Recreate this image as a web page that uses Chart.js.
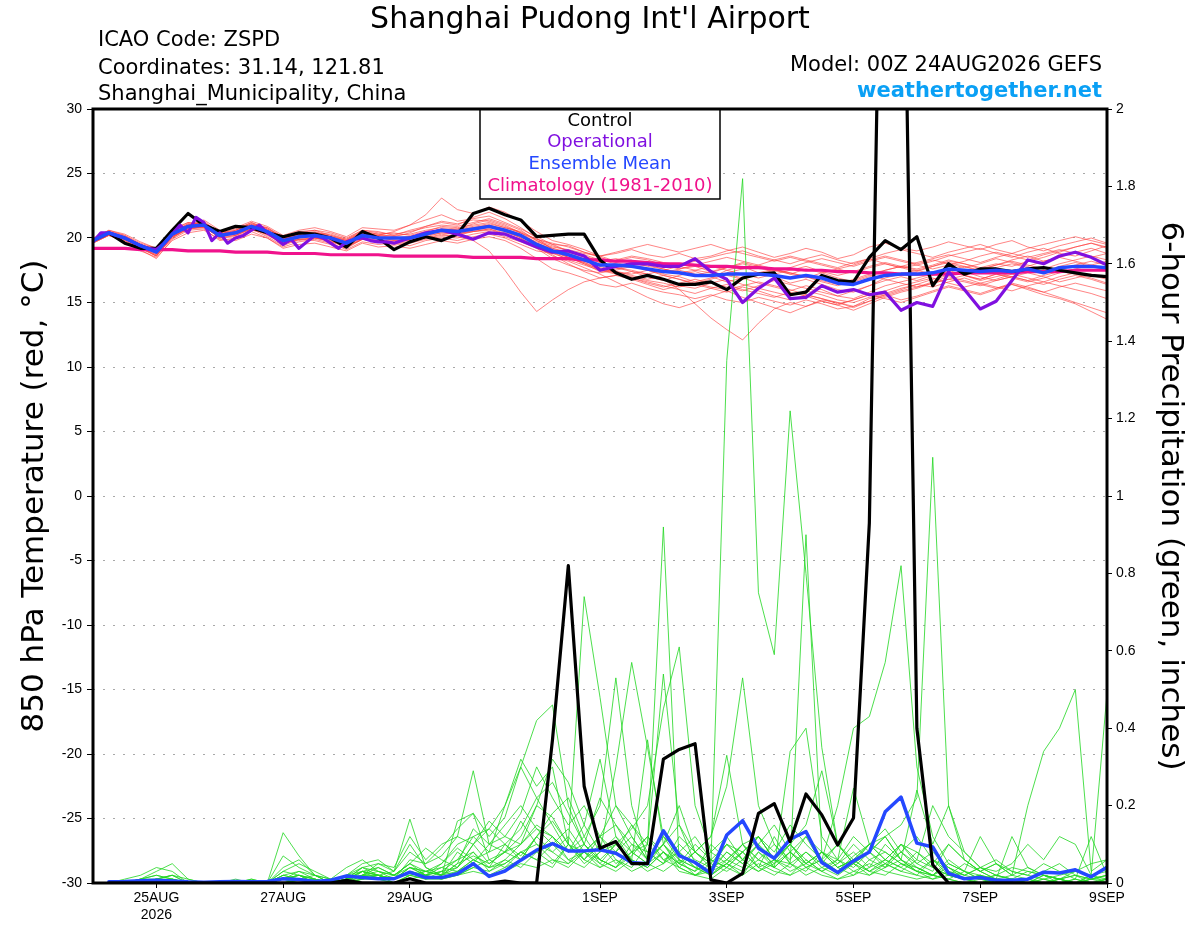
<!DOCTYPE html>
<html>
<head>
<meta charset="utf-8">
<title>Shanghai Pudong Int'l Airport - GEFS meteogram</title>
<script src="https://cdn.jsdelivr.net/npm/chart.js@4/dist/chart.umd.min.js"></script>
<style>
  html, body { margin: 0; padding: 0; background: #fff; }
</style>
</head>
<body>
<canvas id="meteogram" width="1200" height="927"></canvas>
<script>
// Time axis: forecast hours from 00Z 24AUG2026, ensemble output every 6 hours
const stepHours = 6;
const dayTicks = [24, 72, 120, 192, 240, 288, 336, 384];
const dayLabels = [['25AUG', '2026'], '27AUG', '29AUG', '1SEP', '3SEP', '5SEP', '7SEP', '9SEP'];

// 850 hPa temperature, deg C
const controlTemp = [
    19.8,20.4,19.6,19.2,19.2,20.6,21.9,21.0,20.5,20.9,20.8,20.4,20.1,
    20.4,20.3,20.0,19.3,20.5,20.0,19.1,19.7,20.1,19.8,20.3,21.9,22.3,
    21.8,21.4,20.1,20.2,20.3,20.3,18.3,17.3,16.8,17.1,16.8,16.4,16.4,
    16.6,16.0,16.9,17.2,17.3,15.6,15.8,17.1,16.7,16.6,18.5,19.8,19.1,20.1,
    16.3,18.0,17.2,17.6,17.6,17.4,17.6,17.7,17.5,17.3,17.1,17.0
];
const meanTemp = [
    19.8,20.4,20.0,19.4,18.9,20.3,20.9,21.0,20.2,20.4,20.9,20.5,19.8,
    20.1,20.2,20.0,19.6,20.2,20.0,20.0,20.0,20.3,20.6,20.5,20.7,20.9,
    20.6,20.2,19.5,19.0,18.7,18.3,17.9,17.9,17.8,17.6,17.4,17.3,17.1,
    17.1,17.2,17.2,17.2,17.1,16.9,17.1,16.9,16.5,16.4,16.8,17.1,17.2,
    17.2,17.3,17.6,17.5,17.4,17.5,17.4,17.6,17.3,17.7,17.8,17.8,17.7
];
const climTemp = [
    19.2,19.2,19.2,19.1,19.1,19.1,19.0,19.0,19.0,18.9,18.9,18.9,18.8,
    18.8,18.8,18.7,18.7,18.7,18.7,18.6,18.6,18.6,18.6,18.6,18.5,18.5,
    18.5,18.5,18.4,18.4,18.4,18.3,18.3,18.2,18.2,18.1,18.0,18.0,17.9,
    17.8,17.8,17.7,17.7,17.6,17.6,17.5,17.5,17.4,17.4,17.3,17.3,17.2,
    17.2,17.2,17.2,17.3,17.3,17.3,17.3,17.4,17.4,17.4,17.5,17.5,17.5
];
// operational run: 3-hourly to 120h, then 6-hourly
const operTemp3h = [
    19.7,20.4,20.4,20.2,20.0,19.7,19.4,19.2,19.1,19.6,20.3,21.0,20.4,21.6,
    21.2,19.8,20.4,19.6,20.0,20.2,20.6,21.0,20.4,20.0,19.5,19.9,19.2,19.7,
    20.2,20.0,19.6,19.2,19.7,19.9,20.0,19.8,19.7,19.7,19.6,19.8,20.0
];
const operTemp6h = [
    20.4,20.6,20.3,19.9,20.4,20.3,19.8,19.3,18.9,19.0,18.6,17.5,17.8,18.0,18.0,
    17.8,17.8,18.4,17.4,16.8,15.0,16.1,16.9,15.3,15.4,16.3,15.8,16.0,15.6,15.8,
    14.4,15.0,14.7,17.4,16.0,14.5,15.1,16.7,18.3,18.0,18.6,18.9,18.5,17.9
];
const memberTemp = [
    [19.9,20.6,20.2,19.6,19.2,20.7,21.2,21.1,20.5,20.8,21.3,20.9,20.2,
     20.6,20.8,20.5,20.1,20.8,20.7,20.6,21.0,21.4,21.8,21.3,21.5,21.7,
     21.2,20.7,20.1,19.5,19.4,18.9,18.6,18.8,19.1,18.7,18.5,18.8,18.4,
     18.6,19.0,19.3,18.9,18.5,18.8,19.2,18.9,18.4,18.7,19.3,19.6,19.2,
     19.0,19.3,19.7,19.4,19.1,19.5,19.8,19.3,19.0,19.4,19.7,20.0,19.6],
    [19.6,20.2,19.7,19.0,18.5,19.8,20.4,20.6,19.9,19.8,20.3,20.0,19.2,
     19.5,19.6,19.3,19.0,19.6,19.3,19.4,19.2,19.5,19.8,19.6,19.9,20.1,
     19.8,19.2,18.4,17.6,17.3,16.9,16.4,16.2,16.5,16.1,15.8,15.6,15.3,
     15.6,15.2,15.0,15.4,15.1,14.8,15.2,14.9,14.5,14.7,15.3,15.6,15.2,
     15.5,15.9,16.3,16.0,15.7,16.1,16.4,16.0,15.6,15.3,14.9,14.3,13.7],
    [19.7,20.3,20.1,19.5,18.8,20.1,20.9,21.2,20.3,20.5,21.0,20.3,19.5,
     20.0,20.4,20.2,19.8,20.5,20.3,20.1,20.4,20.9,21.2,21.0,21.6,22.0,
     21.5,20.8,20.0,19.1,18.5,18.0,17.4,17.6,17.9,17.5,17.2,17.0,16.6,
     16.9,17.5,17.8,17.3,17.0,16.5,16.8,16.4,16.0,15.8,16.3,16.9,17.2,
     17.5,17.8,18.2,18.0,17.6,17.9,18.3,18.6,18.2,18.5,18.9,19.2,18.8],
    [19.8,20.5,20.0,19.2,18.7,20.0,20.7,20.9,20.0,20.1,20.6,20.4,19.6,
     19.9,20.0,19.8,19.3,19.9,19.8,19.7,19.8,20.0,20.3,20.1,19.8,19.0,
     17.5,15.8,14.3,15.2,16.0,16.6,16.9,17.1,16.8,16.4,16.0,16.3,16.1,
     16.5,16.8,16.4,16.1,15.8,15.5,15.9,15.6,15.2,15.0,15.4,15.7,16.1,
     16.4,16.2,16.6,16.9,16.5,16.8,17.2,16.9,16.6,17.0,17.3,17.1,16.8],
    [19.9,20.4,20.1,19.5,19.1,20.5,21.0,21.3,20.4,20.6,21.2,20.7,20.0,
     20.3,20.5,20.1,19.8,20.4,20.2,20.5,21.0,21.8,23.1,22.2,21.9,22.4,
     22.0,21.3,20.5,19.8,19.5,19.1,18.6,18.2,18.5,18.3,17.9,17.6,17.8,
     17.4,17.7,18.1,17.8,17.5,17.2,17.6,17.3,16.9,16.6,17.0,17.5,17.8,
     17.6,17.9,18.3,18.0,17.7,18.0,17.8,18.2,18.5,18.9,19.3,19.6,19.2],
    [19.7,20.3,19.9,19.3,18.6,20.2,21.0,21.4,20.6,20.2,20.7,20.1,19.4,
     19.9,19.8,19.5,19.2,19.9,19.7,19.5,19.6,19.9,20.1,20.0,20.3,20.5,
     20.1,19.7,19.2,18.8,18.4,18.1,17.5,17.3,17.0,16.7,16.5,16.2,16.5,
     16.8,17.2,16.9,16.5,16.2,15.9,16.3,16.0,15.5,15.3,15.8,16.3,16.6,
     16.9,17.2,17.5,17.1,16.8,17.2,17.0,16.7,17.1,17.4,17.2,16.9,16.5],
    [19.8,20.4,20.0,19.5,19.0,20.4,21.1,20.8,20.1,20.4,21.0,20.6,19.9,
     20.3,20.4,20.3,19.9,20.5,20.3,20.4,20.2,20.5,20.9,20.8,21.0,21.2,
     20.8,20.5,19.9,19.6,19.3,18.9,18.5,18.1,17.8,17.5,17.3,17.6,17.9,
     18.2,18.5,18.2,17.9,18.3,18.6,18.3,18.0,17.7,18.1,18.4,18.0,17.7,
     17.9,18.2,18.6,18.9,19.2,18.8,18.5,18.9,19.2,18.8,18.6,19.0,19.4],
    [19.9,20.5,20.1,19.3,18.8,20.3,20.8,20.9,20.0,20.6,21.1,20.8,20.0,
     20.1,20.3,19.9,19.5,20.1,20.0,19.9,20.1,20.4,20.5,20.7,21.1,21.4,
     21.0,20.4,19.6,19.0,18.5,18.0,17.6,17.4,17.2,17.5,17.1,16.8,16.5,
     16.2,16.0,16.3,16.6,16.3,16.0,15.6,15.3,15.0,14.7,15.1,15.5,15.9,
     16.2,16.5,16.8,16.6,16.3,16.7,17.0,16.7,16.4,16.8,17.1,16.8,16.4],
    [19.8,20.3,19.9,19.4,19.0,20.1,20.7,20.8,20.3,20.3,20.8,20.4,19.8,
     20.2,20.1,19.9,19.4,20.0,19.9,20.1,19.9,20.2,20.4,20.3,20.6,20.8,
     20.5,20.0,19.3,18.6,18.2,17.7,17.2,16.6,16.0,15.4,14.9,14.6,15.0,
     15.5,15.9,15.4,15.0,14.6,14.2,14.7,15.1,14.8,14.4,14.9,15.4,15.8,
     16.1,16.5,16.8,17.1,16.7,17.0,17.3,17.6,17.3,17.6,17.9,18.2,17.9],
    [19.8,20.4,20.0,19.4,18.9,20.3,20.9,21.1,20.2,20.5,21.0,20.6,19.9,
     20.2,20.3,20.0,19.7,20.3,20.2,20.0,20.1,20.4,20.7,20.6,20.8,21.0,
     20.7,20.3,19.6,19.2,18.8,18.4,17.9,17.7,17.5,17.2,16.8,16.0,14.9,
     13.8,12.9,12.1,13.4,14.5,15.0,14.7,15.2,15.0,14.6,15.1,15.6,16.0,
     16.4,16.8,17.1,17.4,17.0,16.7,17.0,17.3,17.0,16.6,16.9,17.2,16.9],
    [19.7,20.2,19.8,19.1,18.4,19.9,20.6,20.7,19.8,20.0,20.5,20.0,19.3,
     19.7,19.9,19.6,19.1,19.7,19.5,19.6,19.4,19.8,20.0,19.8,20.1,20.3,
     20.0,19.5,19.0,18.8,18.9,18.5,18.1,18.3,18.6,18.4,18.1,17.9,18.2,
     18.5,18.8,19.0,18.6,18.3,18.0,18.4,18.7,18.3,18.0,18.4,18.8,19.1,
     18.8,18.5,18.9,19.2,19.5,19.1,18.8,19.2,19.5,19.8,20.1,19.8,19.5],
    [20.0,20.6,20.3,19.7,19.2,20.6,21.2,21.0,20.4,20.7,21.2,20.7,20.1,
     20.4,20.6,20.4,20.0,20.6,20.4,20.3,20.5,20.8,21.0,20.9,21.2,21.5,
     21.1,20.6,19.8,19.2,18.9,18.6,18.2,18.4,18.1,17.8,17.6,17.3,17.1,
     17.4,17.1,16.8,17.2,17.5,17.3,17.0,16.6,16.3,16.7,17.1,16.8,16.5,
     16.2,16.6,17.0,16.7,16.4,16.1,16.5,16.2,15.8,15.4,15.0,14.6,14.2],
    [19.6,20.2,19.8,19.2,18.6,20.0,20.8,20.9,20.1,20.3,20.7,20.3,19.7,
     20.0,20.1,19.7,19.5,20.1,20.1,19.8,19.9,20.2,20.6,20.4,20.5,20.6,
     20.3,19.9,19.3,18.7,18.0,17.4,16.9,17.1,17.4,17.0,16.7,17.1,17.4,
     17.0,16.6,16.9,17.3,17.6,17.2,16.9,17.3,17.6,17.3,17.7,18.0,17.7,
     17.4,17.8,18.1,17.8,17.5,17.9,18.2,17.9,17.6,18.0,18.3,18.6,18.3],
    [19.9,20.5,20.2,19.5,19.0,20.4,21.0,21.2,20.5,20.4,21.0,20.8,20.1,
     20.5,20.6,20.2,19.9,20.6,20.5,20.2,20.6,20.9,21.3,21.1,21.4,21.3,
     20.9,20.4,19.9,19.5,19.0,18.7,18.3,18.0,17.7,17.9,17.6,17.3,17.5,
     17.8,17.5,17.2,16.9,17.2,17.5,17.8,17.4,17.1,17.4,17.8,18.1,17.8,
     17.5,17.2,17.5,17.8,17.4,17.7,18.0,17.7,17.4,17.8,18.1,17.8,17.5],
    [19.7,20.3,19.9,19.3,18.7,20.1,20.8,20.8,20.1,20.2,20.8,20.2,19.6,
     19.8,20.0,19.8,19.4,19.9,19.8,19.6,19.7,20.0,20.2,20.2,20.5,20.7,
     20.4,20.1,19.6,19.1,18.7,18.2,17.8,17.4,17.1,16.8,17.1,16.8,16.4,
     16.1,15.8,16.2,15.9,15.5,15.2,15.6,15.3,14.9,15.2,15.6,15.9,16.3,
     16.6,16.9,16.5,16.2,16.5,16.2,15.9,16.3,16.6,16.3,16.0,15.7,15.3],
    [19.8,20.4,20.1,19.4,18.9,20.2,20.9,21.0,20.3,20.5,20.9,20.5,19.9,
     20.1,20.2,20.0,19.6,20.2,20.0,20.0,20.0,20.3,20.6,20.5,20.7,20.9,
     20.6,20.2,19.7,19.3,19.1,18.8,18.6,18.9,19.2,19.5,19.2,18.9,19.2,
     19.5,19.1,18.8,18.5,18.2,18.5,18.2,17.9,17.6,17.9,18.3,18.6,18.3,
     18.0,18.3,18.0,17.7,18.0,18.4,18.1,17.8,18.2,18.5,18.2,17.9,18.2],
    [19.9,20.5,20.0,19.5,19.0,20.4,20.9,21.0,20.2,20.4,21.0,20.6,19.9,
     20.2,20.3,20.1,19.7,20.3,20.1,20.0,20.1,20.4,20.7,20.6,20.8,21.0,
     20.6,20.0,19.2,18.4,17.9,17.5,17.3,17.5,17.8,17.6,17.3,17.5,17.2,
     17.0,17.3,17.6,17.9,17.6,17.3,17.0,16.7,16.4,16.8,17.2,17.5,17.8,
     18.1,18.4,18.7,18.4,18.1,18.5,18.8,18.5,18.8,19.1,18.8,18.5,18.8],
    [19.7,20.3,19.9,19.2,18.6,20.1,20.7,20.9,20.0,20.2,20.7,20.3,19.6,
     19.9,20.0,19.7,19.3,19.9,19.8,19.8,19.8,20.1,20.4,20.3,20.5,20.7,
     20.3,19.9,19.4,18.9,18.5,18.1,17.7,17.3,16.9,16.5,16.2,16.5,16.8,
     16.5,16.2,15.9,16.3,16.7,16.4,16.1,15.8,15.5,15.9,16.3,16.7,17.0,
     16.7,17.1,17.4,17.1,16.8,17.2,16.9,16.6,16.9,17.3,17.6,17.9,17.6],
    [19.8,20.4,20.0,19.5,19.1,20.5,21.1,21.1,20.3,20.6,21.1,20.6,20.0,
     20.3,20.4,20.1,19.8,20.4,20.2,20.2,20.3,20.6,20.8,20.7,20.9,21.1,
     20.8,20.4,19.8,19.4,19.0,18.6,18.1,17.7,17.4,17.2,17.5,17.8,17.5,
     17.3,17.7,18.0,17.7,17.4,17.7,18.1,18.4,18.1,17.8,18.2,18.5,18.2,
     17.9,17.6,17.9,18.2,18.6,18.9,18.6,18.3,18.7,19.0,19.3,19.6,19.3],
    [19.8,20.4,20.0,19.4,18.9,20.3,20.9,21.0,20.2,20.4,20.9,20.5,19.8,
     20.1,20.2,20.0,19.6,20.2,20.0,20.0,20.0,20.3,20.6,20.5,20.7,20.9,
     20.6,20.2,19.4,18.9,18.3,17.9,17.5,17.2,16.9,16.6,16.3,16.0,15.7,
     16.1,16.4,16.0,15.7,15.4,15.8,15.5,15.1,14.8,15.2,15.6,15.3,15.0,
     15.4,15.8,16.2,15.9,15.6,16.0,16.4,16.1,15.8,16.2,16.5,16.2,15.9]
];

// 6-hour precipitation, inches (nothing at hour 0)
const controlPrecip = [
    null,0,0,0,0,0,0,0,0,0,0,0,0,
    0,0,0,0.007,0,0,0,0.011,0,0,0,0,0,
    0.005,0,0,0.37,0.82,0.25,0.09,0.107,0.05,0.05,0.32,0.345,0.36,
    0.008,0,0.025,0.18,0.205,0.107,0.23,0.176,0.098,0.168,0.93,3.2,3.0,
    0.40,0.047,0,0,0,0,0,0,0,0,0,0,0
];
const meanPrecip = [
    null,0.003,0.004,0.006,0.007,0.005,0.003,0.002,0.003,0.004,0.003,0.004,0.011,
    0.009,0.004,0.007,0.018,0.014,0.011,0.011,0.028,0.014,0.014,0.024,0.05,0.017,
    0.031,0.059,0.085,0.102,0.083,0.083,0.086,0.077,0.053,0.05,0.135,0.071,0.053,
    0.025,0.124,0.161,0.09,0.064,0.113,0.133,0.053,0.027,0.057,0.08,0.184,0.222,
    0.103,0.093,0.025,0.011,0.014,0.007,0.007,0.01,0.028,0.026,0.034,0.016,0.041
];
const memberPrecip = [
    [null,0,0,0.01,0.02,0.01,0,0,0,0,0,0,0.02,
     0.01,0,0,0.02,0.03,0.01,0.02,0.05,0.02,0.03,0.04,0.08,0.03,
     0.06,0.1,0.15,0.12,0.08,0.1,0.05,0.03,0.06,0.04,0.08,0.03,0.02,
     0.05,1.35,1.82,0.75,0.59,1.22,0.8,0.35,0.1,0.05,0.02,0.04,0.06,
     0.03,0.01,0.02,0.01,0,0.01,0,0,0.02,0.01,0,0,0.01],
    [null,0,0.01,0.02,0.04,0.03,0,0,0,0.01,0,0,0.01,
     0.03,0.02,0,0.01,0.04,0.03,0.01,0.06,0.05,0.07,0.12,0.1,0.14,
     0.2,0.32,0.25,0.3,0.1,0.74,0.48,0.2,0.12,0.06,0.1,0.04,0.02,
     0.03,0.05,0.02,0.08,0.04,0.02,0.06,0.03,0.01,0.02,0.04,0.1,0.06,
     0.03,0.02,0.01,0,0.01,0,0,0,0.01,0,0,0.02,0.01],
    [null,0,0,0.01,0.03,0.05,0.01,0,0,0,0.01,0,0.04,
     0.06,0.02,0,0.01,0.02,0.05,0.03,0.1,0.04,0.02,0.05,0.14,0.1,
     0.12,0.18,0.3,0.22,0.15,0.2,0.12,0.08,0.15,0.1,0.92,0.05,0.03,
     0.06,0.1,0.08,0.04,0.12,0.05,0.03,0.08,0.04,0.06,0.03,0.02,0.05,
     0.04,0.02,0.01,0.03,0.01,0,0.01,0,0,0.01,0.03,0.02,0],
    [null,0,0,0,0.01,0.02,0,0,0,0,0,0,0.01,
     0.02,0.01,0,0,0.01,0.02,0.01,0.03,0.02,0.04,0.03,0.06,0.04,
     0.05,0.08,0.1,0.06,0.04,0.08,0.05,0.1,0.06,0.03,0.05,0.08,0.04,
     0.02,0.05,0.1,0.06,0.04,0.08,0.12,0.05,0.03,0.07,0.1,0.12,0.15,
     0.22,1.1,0.2,0.06,0.03,0.01,0,0.01,0,0,0.01,0,0],
    [null,0,0,0.01,0.02,0.01,0,0,0,0,0,0,0,
     0.01,0.02,0.01,0,0.02,0.04,0.02,0.02,0.03,0.02,0.05,0.07,0.05,
     0.08,0.12,0.2,0.17,0.1,0.06,0.12,0.15,0.08,0.05,0.1,0.06,0.04,
     0.03,0.08,0.05,0.1,0.06,0.05,0.9,0.08,0.04,0.06,0.1,0.08,0.05,
     0.03,0.06,0.02,0.01,0.02,0,0,0.01,0,0,0,0.01,0],
    [null,0,0,0,0.01,0.02,0.01,0,0,0,0.01,0,0.03,
     0.05,0.03,0.01,0,0.03,0.02,0.01,0.04,0.02,0.05,0.09,0.06,0.08,
     0.1,0.14,0.22,0.26,0.18,0.1,0.22,0.15,0.1,0.08,0.05,0.12,0.08,
     0.04,0.1,0.06,0.12,0.08,0.15,0.1,0.06,0.2,0.4,0.43,0.57,0.82,
     0.3,0.12,0.05,0.03,0.02,0.01,0,0,0.02,0,0,0,0.01],
    [null,0,0,0.01,0,0,0,0,0,0,0,0,0.01,
     0.02,0,0,0.01,0.03,0.04,0.02,0.05,0.03,0.04,0.06,0.12,0.08,
     0.2,0.3,0.42,0.46,0.2,0.1,0.06,0.04,0.08,0.05,0.03,0.06,0.02,
     0.01,0.04,0.02,0.05,0.03,0.02,0.04,0.02,0.01,0.03,0.05,0.03,0.02,
     0.01,0.02,0.01,0,0,0.01,0,0,0,0,0,0,0],
    [null,0,0,0,0.01,0,0,0,0,0,0,0,0.02,
     0.01,0.01,0,0.02,0.05,0.06,0.03,0.08,0.05,0.09,0.14,0.18,0.12,
     0.17,0.3,0.22,0.15,0.08,0.12,0.2,0.53,0.2,0.06,0.1,0.15,0.05,
     0.02,0.06,0.1,0.04,0.02,0.05,0.08,0.04,0.02,0.05,0.03,0.06,0.1,
     0.08,0.04,0.02,0.05,0.03,0.01,0.02,0.04,0.02,0.01,0,0.02,0.03],
    [null,0,0,0,0,0.01,0,0,0,0,0,0,0.07,
     0.04,0.02,0.01,0.04,0.06,0.03,0.02,0.05,0.09,0.06,0.04,0.1,0.16,
     0.12,0.1,0.2,0.32,0.26,0.15,0.08,0.3,0.57,0.35,0.12,0.06,0.04,
     0.08,0.05,0.03,0.06,0.1,0.05,0.02,0.04,0.06,0.03,0.02,0.05,0.03,
     0.02,0.01,0.03,0.02,0.04,0.02,0.01,0,0,0.01,0.02,0,0],
    [null,0,0,0.01,0.01,0,0,0,0,0,0,0,0.03,
     0.02,0,0,0.01,0.02,0.02,0.01,0.04,0.03,0.02,0.08,0.05,0.1,
     0.08,0.06,0.12,0.18,0.22,0.12,0.06,0.1,0.14,0.2,0.45,0.61,0.2,
     0.08,0.12,0.06,0.1,0.15,0.08,0.04,0.06,0.1,0.05,0.08,0.12,0.06,
     0.04,0.02,0.06,0.03,0.01,0.02,0.01,0,0.01,0,0,0.01,0.02],
    [null,0,0,0,0,0,0,0,0,0,0,0,0.01,
     0,0,0,0.01,0.01,0.02,0.01,0.03,0.01,0.02,0.03,0.05,0.02,
     0.04,0.06,0.08,0.05,0.1,0.06,0.04,0.08,0.12,0.06,0.1,0.2,0.08,
     0.12,0.25,0.53,0.2,0.1,0.06,0.12,0.08,0.05,0.1,0.06,0.04,0.08,
     0.05,0.03,0.1,0.06,0.03,0.05,0.02,0.01,0.03,0.05,0.02,0.01,0.02],
    [null,0,0,0,0.01,0.02,0,0,0,0,0,0,0.02,
     0.03,0.01,0,0.02,0.04,0.05,0.04,0.12,0.06,0.1,0.12,0.29,0.1,
     0.15,0.2,0.14,0.1,0.06,0.08,0.04,0.06,0.03,0.05,0.08,0.04,0.02,
     0.04,0.06,0.1,0.12,0.06,0.03,0.05,0.08,0.04,0.02,0.06,0.08,0.05,
     0.03,0.02,0.04,0.01,0,0.01,0,0,0,0.01,0,0,0],
    [null,0,0,0,0,0,0,0,0,0,0,0,0,
     0.01,0,0,0,0.02,0.01,0,0.02,0.01,0.03,0.02,0.04,0.03,
     0.05,0.08,0.06,0.04,0.1,0.05,0.08,0.12,0.06,0.04,0.08,0.05,0.1,
     0.06,0.04,0.08,0.12,0.06,0.1,0.05,0.08,0.04,0.06,0.1,0.06,0.04,
     0.08,0.05,0.1,0.06,0.03,0.05,0.02,0.2,0.34,0.4,0.5,0.03,0.06],
    [null,0,0,0,0,0.01,0,0,0,0,0,0,0.01,
     0,0.01,0,0.01,0.03,0.02,0.01,0.04,0.02,0.03,0.06,0.08,0.04,
     0.1,0.07,0.12,0.08,0.05,0.1,0.06,0.04,0.07,0.12,0.08,0.05,0.03,
     0.1,0.06,0.04,0.08,0.05,0.1,0.06,0.03,0.05,0.08,0.04,0.06,0.1,
     0.05,0.08,0.04,0.02,0.04,0.03,0.05,0.1,0.06,0.12,0.1,0.02,0.49],
    [null,0,0,0,0.01,0.01,0,0,0,0,0,0,0.13,
     0.07,0.02,0,0.01,0.02,0.03,0.02,0.04,0.03,0.05,0.1,0.12,0.14,
     0.1,0.06,0.12,0.16,0.1,0.08,0.12,0.2,0.15,0.08,0.05,0.1,0.06,
     0.04,0.08,0.05,0.03,0.06,0.04,0.08,0.05,0.1,0.06,0.03,0.05,0.08,
     0.04,0.02,0.05,0.03,0.12,0.05,0.03,0.02,0.01,0.02,0.03,0.05,0.06],
    [null,0,0,0,0,0,0,0,0,0,0,0,0.01,
     0.02,0.01,0,0.01,0.04,0.02,0.03,0.165,0.04,0.02,0.16,0.18,0.06,
     0.08,0.16,0.1,0.08,0.12,0.06,0.1,0.05,0.08,0.12,0.06,0.04,0.08,
     0.05,0.03,0.06,0.1,0.04,0.08,0.05,0.03,0.06,0.12,0.08,0.04,0.1,
     0.06,0.2,0.12,0.08,0.04,0.06,0.03,0.02,0.05,0.03,0.01,0.12,0.02],
    [null,0,0,0,0,0,0,0,0,0,0,0,0.01,
     0.01,0,0,0.01,0.02,0.02,0.01,0.03,0.02,0.01,0.03,0.06,0.04,
     0.06,0.04,0.08,0.12,0.06,0.04,0.08,0.1,0.06,0.37,0.1,0.05,0.08,
     0.12,0.33,0.1,0.06,0.04,0.34,0.4,0.12,0.06,0.04,0.08,0.05,0.03,
     0.06,0.04,0.02,0.01,0.02,0,0.01,0,0,0,0.01,0,0],
    [null,0,0,0,0,0,0,0,0,0,0,0,0,
     0,0,0,0,0.01,0.01,0,0.02,0.01,0.01,0.02,0.03,0.02,
     0.03,0.05,0.04,0.06,0.05,0.08,0.12,0.06,0.04,0.1,0.06,0.08,0.12,
     0.06,0.04,0.08,0.12,0.06,0.1,0.15,0.29,0.1,0.05,0.08,0.12,0.06,
     0.24,0.1,0.2,0.08,0.04,0.02,0.04,0.03,0.02,0.01,0,0.01,0.02],
    [null,0,0,0,0,0,0,0,0,0,0,0,0.01,
     0.02,0.01,0,0.01,0.03,0.02,0,0.02,0.03,0.02,0.04,0.1,0.05,
     0.08,0.1,0.14,0.12,0.08,0.15,0.32,0.12,0.08,0.1,0.54,0.15,0.08,
     0.05,0.1,0.06,0.03,0.05,0.08,0.04,0.06,0.03,0.05,0.1,0.14,0.08,
     0.12,0.06,0.04,0.02,0.01,0.02,0.01,0.03,0.02,0.01,0.02,0.01,0.01],
    [null,0,0,0,0,0,0,0,0,0,0,0,0,
     0.01,0,0,0,0.01,0.02,0,0.01,0.02,0.01,0.02,0.04,0.06,
     0.04,0.08,0.06,0.1,0.14,0.08,0.06,0.04,0.1,0.06,0.12,0.08,0.04,
     0.02,0.05,0.08,0.04,0.06,0.1,0.05,0.08,0.06,0.245,0.1,0.06,0.04,
     0.02,0.06,0.03,0.01,0.02,0.01,0.12,0.04,0.02,0.01,0,0,0.01]
];

// Legend (drawn in a box at the top of the plot)
const legendNames = ['Control', 'Operational', 'Ensemble Mean', 'Climatology (1981-2010)'];
const legendColors = ['#000000', '#8010e0', '#2448ff', '#f0128c'];

const headFont = "'DejaVu Sans', 'Liberation Sans', sans-serif";
const tickFont = "'Liberation Sans', Arial, sans-serif";

// operational run hours: 3-hourly to 120h, 6-hourly after
const operHours = [];
for (let h = 0; h <= 120; h += 3) operHours.push(h);
for (let h = 126; h <= 384; h += 6) operHours.push(h);
const operTemp = operTemp3h.concat(operTemp6h);

function toPoints(values, hours) {
    return values.map((v, i) => ({x: hours ? hours[i] : i * stepHours, y: v}));
}

let datasets = [];
memberTemp.forEach((m, k) => {
    datasets.push({
        label: 'Member ' + (k + 1) + ' T850', data: toPoints(m), yAxisID: 'yTemp',
        borderColor: 'rgba(255, 60, 60, 0.7)', borderWidth: 0.9, order: 10
    });
});
memberPrecip.forEach((m, k) => {
    datasets.push({
        label: 'Member ' + (k + 1) + ' precip', data: toPoints(m), yAxisID: 'yPrecip',
        borderColor: 'rgba(35, 215, 35, 0.9)', borderWidth: 0.9, order: 9
    });
});
datasets.push({label: legendNames[3], data: toPoints(climTemp), yAxisID: 'yTemp',
    borderColor: legendColors[3], borderWidth: 3.2, order: 6});
datasets.push({label: 'Ensemble Mean precip', data: toPoints(meanPrecip), yAxisID: 'yPrecip',
    borderColor: legendColors[2], borderWidth: 3.5, order: 5});
datasets.push({label: 'Control precip', data: toPoints(controlPrecip), yAxisID: 'yPrecip',
    borderColor: legendColors[0], borderWidth: 3.2, order: 4});
datasets.push({label: legendNames[0], data: toPoints(controlTemp), yAxisID: 'yTemp',
    borderColor: legendColors[0], borderWidth: 3.2, order: 3});
datasets.push({label: legendNames[1], data: toPoints(operTemp, operHours), yAxisID: 'yTemp',
    borderColor: legendColors[1], borderWidth: 3.2, order: 2});
datasets.push({label: legendNames[2], data: toPoints(meanTemp), yAxisID: 'yTemp',
    borderColor: legendColors[2], borderWidth: 3.5, order: 1});

// Frame, legend box and header text
const decorations = {
    id: 'decorations',
    afterDatasetsDraw(chart) {
        const {ctx, chartArea: a} = chart;
        ctx.save();
        // legend box
        ctx.fillStyle = '#fff';
        ctx.fillRect(480, a.top, 240, 90);
        ctx.strokeStyle = '#000';
        ctx.lineWidth = 1.5;
        ctx.strokeRect(480, a.top, 240, 90);
        ctx.font = '18px ' + headFont;
        ctx.textAlign = 'center';
        ctx.textBaseline = 'middle';
        legendNames.forEach((name, k) => {
            ctx.fillStyle = legendColors[k];
            ctx.fillText(name, 600, a.top + 12 + k * 21.7);
        });
        // plot frame
        ctx.lineWidth = 3;
        ctx.strokeRect(a.left, a.top, a.right - a.left, a.bottom - a.top);
        ctx.restore();
    },
    afterDraw(chart) {
        const ctx = chart.ctx;
        ctx.save();
        ctx.fillStyle = '#000';
        ctx.textBaseline = 'alphabetic';
        ctx.textAlign = 'center';
        ctx.font = '30px ' + headFont;
        ctx.fillText("Shanghai Pudong Int'l Airport", 590, 28);
        ctx.textAlign = 'left';
        ctx.font = '21px ' + headFont;
        ctx.fillText('ICAO Code: ZSPD', 98, 46);
        ctx.fillText('Coordinates: 31.14, 121.81', 98, 74);
        ctx.fillText('Shanghai_Municipality, China', 98, 100);
        ctx.textAlign = 'right';
        ctx.fillText('Model: 00Z 24AUG2026 GEFS', 1102, 71);
        ctx.font = 'bold 21px ' + headFont;
        ctx.fillStyle = '#0aa0f5';
        ctx.fillText('weathertogether.net', 1102, 97);
        ctx.restore();
    }
};

let myChart = new Chart(document.querySelector('#meteogram'), {
    type: 'line',
    data: { datasets: datasets },
    plugins: [decorations],
    options: {
        responsive: false,
        animation: false,
        events: [],
        layout: { padding: { top: 109, left: 0, right: 0, bottom: 0 } },
        elements: {
            line: { tension: 0, fill: false, borderJoinStyle: 'round', borderCapStyle: 'round' },
            point: { radius: 0 }
        },
        plugins: {
            legend: { display: false },
            tooltip: { enabled: false }
        },
        scales: {
            x: {
                type: 'linear',
                min: 0,
                max: 384,
                afterBuildTicks: axis => { axis.ticks = dayTicks.map(v => ({value: v})); },
                afterFit: axis => { axis.height = 44; },
                ticks: {
                    autoSkip: false, maxRotation: 0, padding: 2, color: '#000',
                    font: { family: tickFont, size: 14 },
                    callback: (value, index) => dayLabels[index]
                },
                grid: { drawOnChartArea: false, tickLength: 5, tickColor: '#000', tickWidth: 1 },
                border: { display: false }
            },
            yTemp: {
                position: 'left',
                min: -30,
                max: 30,
                afterFit: axis => { axis.width = 93; },
                ticks: { stepSize: 5, padding: 5, color: '#000', font: { family: tickFont, size: 14 } },
                grid: { color: '#a8a8a8', lineWidth: 1, tickColor: '#000', tickLength: 6, tickWidth: 1, borderDash: [2, 8] },
                border: { display: false, dash: [2, 8] },
                title: {
                    display: true, text: '850 hPa Temperature (red, °C)', color: '#000',
                    font: { family: headFont, size: 31 }, padding: { top: 16, bottom: 0 }
                }
            },
            yPrecip: {
                position: 'right',
                min: 0,
                max: 2,
                afterFit: axis => { axis.width = 93; },
                ticks: {
                    stepSize: 0.2, padding: 4, color: '#000', font: { family: tickFont, size: 14 },
                    callback: value => String(Math.round(value * 10) / 10)
                },
                grid: { drawOnChartArea: false, tickColor: '#000', tickLength: 5, tickWidth: 1 },
                border: { display: false },
                title: {
                    display: true, text: '6-hour Precipitation (green, inches)', color: '#000',
                    font: { family: headFont, size: 31 }, padding: { top: 11, bottom: 0 }
                }
            }
        }
    }
});
</script>
</body>
</html>
